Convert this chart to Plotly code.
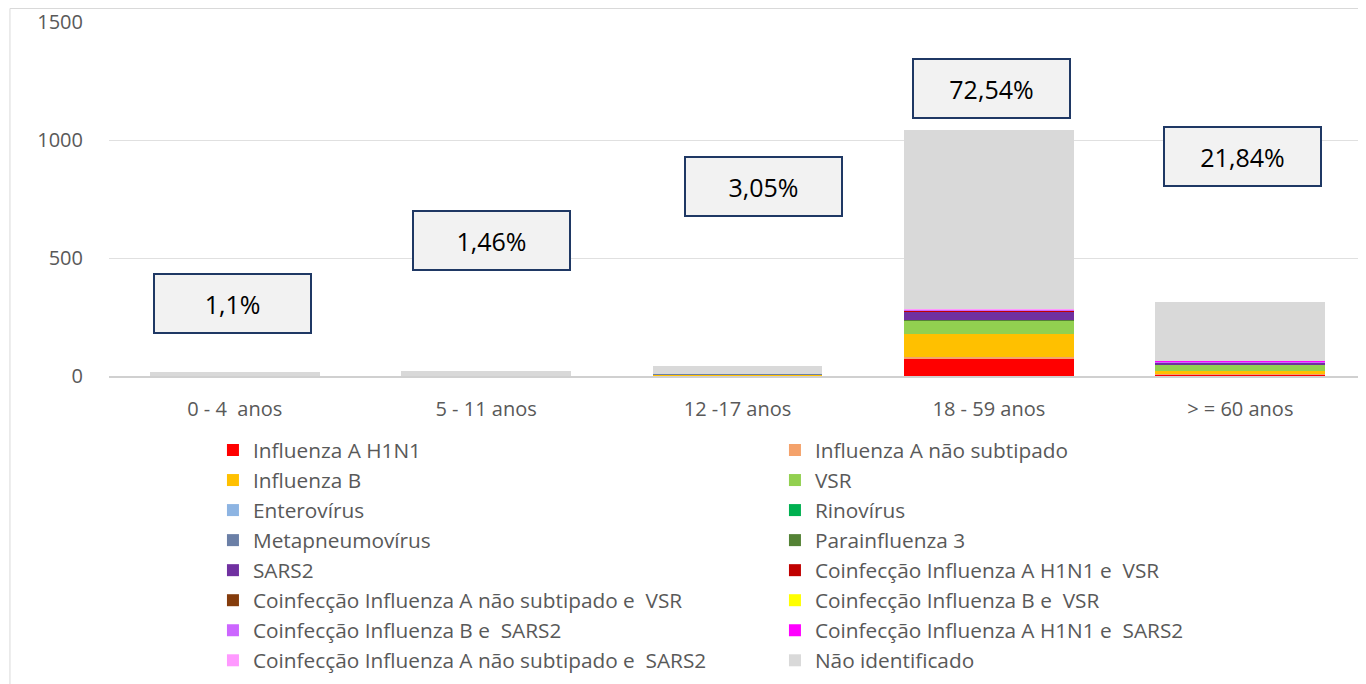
import plotly.graph_objects as go

categories = ["0 - 4\u00a0\u00a0anos", "5 - 11 anos", "12 -17 anos", "18 - 59 anos", "> = 60 anos"]

series_names = [
    "Influenza A H1N1", "Influenza A não subtipado",
    "Influenza B", "VSR",
    "Enterovírus", "Rinovírus",
    "Metapneumovírus", "Parainfluenza 3",
    "SARS2", "Coinfecção Influenza A H1N1 e\u00a0\u00a0VSR",
    "Coinfecção Influenza A não subtipado e\u00a0\u00a0VSR", "Coinfecção Influenza B e\u00a0\u00a0VSR",
    "Coinfecção Influenza B e\u00a0\u00a0SARS2", "Coinfecção Influenza A H1N1 e\u00a0\u00a0SARS2",
    "Coinfecção Influenza A não subtipado e\u00a0\u00a0SARS2", "Não identificado",
]
series_colors = [
    "#FF0000", "#F4A26B", "#FFC000", "#92D050", "#8DB4E2", "#00B050",
    "#6B7FA6", "#548235", "#7030A0", "#C00000", "#843C0C", "#FFFF00",
    "#CC66FF", "#FF00FF", "#FF99FF", "#D9D9D9",
]

# values per age group (0-4, 5-11, 12-17, 18-59, >=60)
influenza_a_h1n1 = [0, 0, 0, 70, 8]
influenza_a_nst = [0, 0, 0, 11, 1]
influenza_b = [0, 1, 8, 99, 13]
vsr = [0, 1, 0, 54, 25]
enterovirus = [1, 0, 0, 1, 0]
rinovirus = [0, 0, 0, 1, 1]
metapneumovirus = [1, 0, 1, 1, 1]
parainfluenza3 = [0, 0, 0, 2, 1]
sars2 = [0, 0, 0, 35, 8]
coinf_h1n1_vsr = [0, 0, 0, 2, 1]
coinf_nst_vsr = [0, 0, 0, 0, 0]
coinf_b_vsr = [0, 0, 0, 3, 0]
coinf_b_sars2 = [0, 0, 0, 1, 1]
coinf_h1n1_sars2 = [0, 0, 0, 1, 2]
coinf_nst_sars2 = [0, 0, 0, 2, 0]
nao_identificado = [14, 19, 35, 760, 252]

series_values = [
    influenza_a_h1n1, influenza_a_nst, influenza_b, vsr, enterovirus, rinovirus,
    metapneumovirus, parainfluenza3, sars2, coinf_h1n1_vsr, coinf_nst_vsr,
    coinf_b_vsr, coinf_b_sars2, coinf_h1n1_sars2, coinf_nst_sars2, nao_identificado,
]

pct_labels = ["1,1%", "1,46%", "3,05%", "72,54%", "21,84%"]
pct_label_y = [309, 576, 805, 1220, 932]
pct_label_xshift = [-2, 5, 26, 3, 2]

FONT = "Open Sans"

fig = go.Figure()
for name, color, vals in zip(series_names, series_colors, series_values):
    fig.add_trace(go.Bar(x=categories, y=vals, name=name, marker_color=color,
                         marker_line_width=0))

for cat, txt, yv, xs in zip(categories, pct_labels, pct_label_y, pct_label_xshift):
    fig.add_annotation(x=cat, y=yv, xref="x", yref="y", text=txt, showarrow=False,
                       xshift=xs, width=155, height=57, bgcolor="#F2F2F2",
                       bordercolor="#1F3864", borderwidth=2, borderpad=0,
                       font=dict(family=FONT, size=25, color="#000000"))

# chart area border
fig.add_shape(type="rect", xref="paper", yref="paper", x0=-0.0788, x1=1.02,
              y0=-1.2, y1=1.0381, line=dict(color="#D9D9D9", width=1),
              fillcolor="rgba(0,0,0,0)", layer="below")

fig.update_layout(
    width=1358, height=676,
    margin=dict(l=101, r=0, t=14, b=308),
    barmode="stack", bargap=0.325,
    paper_bgcolor="white", plot_bgcolor="white",
    font=dict(family=FONT, size=20, color="#595959"),
    showlegend=True,
    legend=dict(orientation="h", x=0.0827, xanchor="left", y=-0.1525, yanchor="top",
                entrywidth=517, entrywidthmode="pixels", traceorder="normal",
                font=dict(family=FONT, size=20.8, color="#595959"),
                bgcolor="rgba(0,0,0,0)", tracegroupgap=0),
)
fig.update_yaxes(range=[0, 1500], dtick=500, showgrid=True, gridcolor="#E0E0E0",
                 gridwidth=1, zeroline=False, showline=False, ticks="",
                 ticklabelstandoff=25, tickfont=dict(size=20, color="#595959"))
fig.update_xaxes(showline=True, linecolor="#D0D0D0", linewidth=1.5, ticks="",
                 ticklabelstandoff=14, tickfont=dict(size=20, color="#595959"))

fig.write_html("out.html")
